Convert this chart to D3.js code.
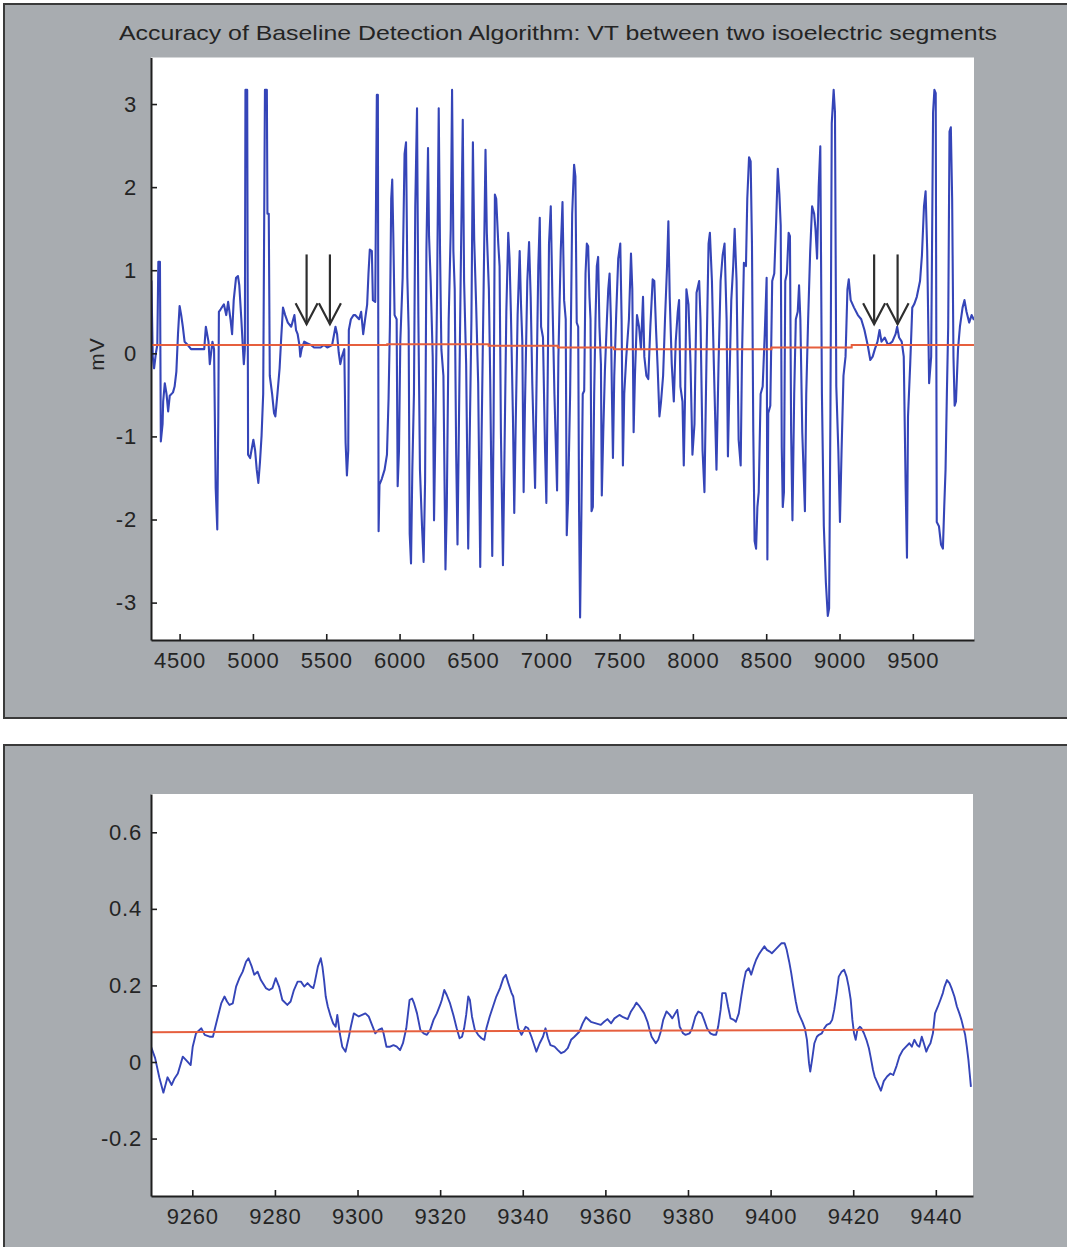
<!DOCTYPE html>
<html>
<head>
<meta charset="utf-8">
<script src="https://cdn.jsdelivr.net/npm/d3@7"></script>
<style>
  body { margin: 0; background: #fff; }
  svg { display: block; font-family: "Liberation Sans", Arial, sans-serif; }
  .axis text { font-size: 22px; fill: #242424; letter-spacing: 0.8px; }
  .axis path { stroke: #1f1f1f; stroke-width: 2; }
  .axis line { stroke: #1f1f1f; stroke-width: 1.6; }
</style>
</head>
<body>
<div class="chart"></div>
<script>
const title = "Accuracy of Baseline Detection Algorithm: VT between two isoelectric segments"

// top panel: whole strip
const topTicksX = [4500, 5000, 5500, 6000, 6500, 7000, 7500, 8000, 8500, 9000, 9500]
const topTicksY = [-3, -2, -1, 0, 1, 2, 3]
const topSignal = [
  [4305,0.62],[4308,0.87],[4312,0.45],[4317,-0.04],[4326,-0.18],[4339,0.01],[4348,0.10],[4355,1.10],[4366,1.10],[4372,-1.06],
  [4384,-0.85],[4388,-0.58],[4399,-0.36],[4411,-0.49],[4422,-0.70],[4433,-0.51],[4455,-0.47],[4466,-0.40],[4478,-0.22],[4489,0.23],
  [4500,0.57],[4511,0.46],[4522,0.32],[4534,0.14],[4556,0.10],[4578,0.05],[4612,0.05],[4668,0.05],[4679,0.32],[4697,0.14],
  [4706,-0.13],[4724,0.14],[4735,0.05],[4746,-1.62],[4757,-2.12],[4764,-0.76],[4768,0.50],[4780,0.53],[4802,0.59],[4818,0.46],
  [4831,0.62],[4847,0.41],[4858,0.23],[4869,0.64],[4885,0.91],[4898,0.93],[4907,0.82],[4921,0.41],[4932,0.05],[4938,-0.13],
  [4945,0.05],[4949,3.17],[4961,3.17],[4967,-1.22],[4981,-1.26],[5003,-1.04],[5015,-1.17],[5026,-1.40],[5037,-1.56],[5048,-1.31],
  [5059,-0.99],[5070,-0.49],[5082,3.17],[5095,3.17],[5099,1.68],[5108,1.68],[5115,-0.27],[5131,-0.49],[5144,-0.72],[5153,-0.76],
  [5167,-0.49],[5182,-0.18],[5193,0.19],[5205,0.55],[5220,0.46],[5238,0.37],[5261,0.32],[5283,0.46],[5294,0.28],[5305,0.23],
  [5317,0.10],[5323,-0.04],[5332,0.05],[5350,0.14],[5372,0.12],[5395,0.10],[5417,0.07],[5462,0.07],[5484,0.10],[5507,0.07],
  [5540,0.10],[5563,0.32],[5574,0.23],[5585,0.01],[5596,-0.13],[5607,-0.04],[5623,0.05],[5632,-1.08],[5641,-1.47],[5650,-1.17],
  [5654,0.28],[5668,0.41],[5686,0.46],
  [5697,0.46],[5724,0.41],[5738,0.50],[5752,0.23],[5765,0.41],[5779,0.59],[5788,0.96],[5797,1.25],[5811,1.23],[5818,0.64],
  [5834,0.62],[5841,2.22],[5845,3.11],[5852,3.11],[5857,-2.14],[5863,-1.58],[5879,-1.51],[5898,-1.40],[5914,-1.22],[5925,-0.54],
  [5934,0.32],[5943,1.86],[5950,2.09],[5957,1.45],[5966,0.46],[5980,0.41],[5987,-1.60],[5996,-1.17],[6005,0.14],[6021,0.91],
  [6034,2.40],[6044,2.54],[6053,0.91],[6062,0.28],[6069,-2.17],[6078,-2.53],[6087,-1.40],[6098,-0.49],[6107,1.77],[6119,2.95],
  [6128,0.46],[6139,-1.40],[6153,-2.08],[6164,-2.51],[6174,-1.53],[6183,1.23],[6194,2.47],[6201,1.41],[6212,0.87],[6226,-0.04],
  [6235,-2.01],[6244,-0.95],[6256,0.77],[6267,2.95],[6276,1.23],[6285,0.05],[6299,-0.27],[6313,-2.60],[6322,-1.85],[6335,0.41],
  [6349,1.50],[6358,3.17],[6367,1.23],[6376,0.77],[6386,-1.22],[6395,-2.30],[6404,-0.95],[6417,0.96],[6431,2.81],[6440,0.87],
  [6454,-0.13],[6468,-2.35],[6477,-1.17],[6490,0.41],[6500,2.54],[6509,1.36],[6522,0.59],[6536,-0.36],[6550,-2.57],[6559,-1.04],
  [6573,0.77],[6586,2.45],[6595,1.45],[6609,0.77],[6618,-0.31],[6632,-2.44],[6641,-0.85],[6650,1.91],[6659,1.86],[6673,1.32],
  [6682,1.05],[6691,-0.95],[6705,-2.55],[6714,-1.40],[6728,0.50],[6741,1.45],[6750,1.14],[6759,0.50],[6773,-0.76],[6782,-1.92],
  [6791,-0.95],[6805,0.46],[6819,1.23],[6828,0.59],[6837,0.14],[6846,-1.67],[6855,-0.63],[6871,0.87],[6883,1.34],[6894,0.68],
  [6905,-0.36],[6924,-1.62],[6933,-0.49],[6946,1.05],[6956,1.63],[6965,0.32],[6978,0.19],[6992,-1.17],[7001,-1.80],[7010,-0.31],
  [7019,1.32],[7031,1.77],[7042,0.68],[7056,-0.49],[7074,-1.65],[7083,-0.04],[7099,1.23],[7111,1.82],[7122,0.64],[7133,0.41],
  [7140,-2.19],[7149,-1.76],[7163,-0.49],[7177,1.68],[7190,2.27],[7199,2.13],[7208,0.37],[7218,0.32],[7224,-1.90],[7231,-3.18],
  [7240,-1.92],[7249,-0.49],[7259,-0.45],[7268,0.96],[7277,1.32],[7286,1.29],[7295,0.68],[7302,0.41],[7309,-1.90],[7318,-1.85],
  [7327,-0.49],[7336,0.41],[7345,1.05],[7354,1.16],[7363,0.32],[7373,-0.13],[7379,-1.71],[7389,-0.95],[7400,-0.22],[7414,0.41],
  [7423,0.77],[7432,0.96],[7441,0.41],[7448,-0.49],[7455,-1.26],[7464,-0.27],[7477,0.46],[7491,1.14],[7505,1.32],[7514,0.41],
  [7523,-1.35],[7532,-0.49],[7546,-0.04],[7564,0.41],[7578,1.20],[7587,0.77],[7596,-0.95],[7605,-0.27],[7619,0.46],[7633,0.32],
  [7646,0.05],[7660,0.68],[7669,-0.04],[7683,-0.27],[7696,-0.31],[7710,0.32],[7726,0.89],[7737,0.87],[7749,0.28],[7760,-0.18],
  [7772,-0.76],[7783,-0.58],[7797,-0.27],[7810,0.41],[7824,1.05],[7833,1.59],[7842,0.68],[7856,-0.13],[7870,-0.58],[7883,0.14],
  [7897,0.50],[7906,0.64],[7915,-0.40],[7929,-0.58],[7938,-1.35],[7947,-0.49],[7956,0.77],[7970,0.59],[7984,-0.13],[7997,-1.22],
  [8011,-0.85],[8025,0.73],[8043,0.87],[8052,0.41],[8066,-1.17],[8079,-1.67],[8093,-0.04],[8107,1.32],[8116,1.45],[8130,0.87],
  [8143,-0.13],[8161,-1.40],[8175,-0.13],[8189,0.87],[8203,1.18],[8216,1.32],[8230,0.41],[8239,-1.24],[8250,-0.31],[8262,0.64],
  [8275,1.05],[8285,1.50],[8298,0.87],[8312,-1.04],[8326,-1.35],[8335,-0.04],[8348,1.09],[8362,1.05],[8371,1.86],[8383,2.36],
  [8394,2.31],[8403,1.32],[8412,-0.95],[8421,-2.26],[8431,-2.35],[8440,-1.85],[8449,-1.67],[8462,-0.49],[8476,-0.40],[8490,0.23],
  [8503,0.91],
  [8508,-2.48],[8514,-0.72],[8528,-0.63],[8541,0.87],[8555,0.96],[8568,1.59],[8579,2.22],[8590,1.91],[8599,1.54],[8606,-1.13],
  [8613,-1.85],[8621,-1.67],[8630,0.87],[8641,0.96],[8653,1.45],[8662,1.41],[8670,-0.95],[8679,-2.01],[8691,-0.49],[8702,0.41],
  [8715,0.50],[8724,0.82],[8733,0.41],[8746,-0.95],[8764,-1.90],[8773,-0.49],[8786,0.41],[8800,1.23],[8813,1.77],[8827,1.68],
  [8836,1.50],[8847,1.14],[8858,2.00],[8869,2.49],[8880,-0.49],[8893,-2.08],[8907,-2.76],[8920,-3.16],[8929,-3.07],[8938,-0.72],
  [8947,2.77],[8960,3.17],[8969,2.90],[8978,-0.40],[8992,-1.17],[9003,-2.03],[9014,-1.17],[9027,-0.27],[9041,-0.04],[9054,0.77],
  [9063,0.89],[9076,0.64],[9099,0.55],[9125,0.46],[9148,0.41],[9170,0.28],[9192,0.10],[9210,-0.08],[9226,-0.04],[9241,0.05],
  [9259,0.14],[9273,0.28],[9286,0.14],[9308,0.19],[9331,0.10],[9360,0.14],[9382,0.23],[9393,0.32],[9406,0.19],[9424,0.14],
  [9438,-0.04],[9451,-1.62],[9460,-2.46],[9467,-0.76],[9482,-0.13],[9496,0.55],[9509,0.59],[9527,0.68],[9549,0.87],[9562,1.18],
  [9576,1.77],[9587,1.95],[9598,1.23],[9611,-0.36],[9625,-0.04],[9638,2.90],[9647,3.17],[9656,3.13],[9663,-2.03],[9678,-2.08],
  [9692,-2.30],[9705,-2.35],[9714,-1.85],[9723,-1.40],[9732,-0.49],[9741,0.32],[9750,2.67],[9759,2.72],[9768,1.86],[9777,-0.04],
  [9785,-0.63],[9794,-0.58],[9808,0.05],[9821,0.32],[9839,0.55],[9852,0.64],[9866,0.50],[9884,0.37],[9901,0.46],[9917,0.40]
]
const topBaseline = [
  [4305,0.10],[5916,0.10],[5916,0.11],[6607,0.11],[6607,0.09],[7079,0.09],[7079,0.07],[7462,0.07],
  [7462,0.05],[8536,0.05],[8536,0.07],[9083,0.07],[9083,0.10],[9917,0.10]
]
// arrows marking the two isoelectric segments
const arrowX = [5366, 5525, 9236, 9396]
const arrowTop = 1.19
const arrowTip = 0.35

// bottom panel: close-up of the second segment
const zoomTicksX = [9260, 9280, 9300, 9320, 9340, 9360, 9380, 9400, 9420, 9440]
const zoomTicksY = [-0.2, 0, 0.2, 0.4, 0.6]
const zoomSignal = [
  [9250,0.04],[9251,0.01],[9252,-0.04],[9253,-0.08],[9254,-0.04],[9255,-0.06],[9255.7,-0.043],[9256.5,-0.03],[9257.7,0.014],[9258.5,0.005],
  [9259.6,-0.008],[9260.1,0.04],[9260.9,0.075],[9262.2,0.088],[9263,0.071],[9264.2,0.066],[9265,0.066],[9265.4,0.084],[9266.2,0.119],[9267,0.153],
  [9267.8,0.171],[9268.4,0.158],[9269,0.149],[9269.8,0.153],[9270.6,0.197],[9271.4,0.219],[9272.2,0.236],[9273,0.262],[9273.6,0.271],[9274.4,0.249],
  [9275,0.228],[9275.8,0.236],[9276.6,0.214],[9277.8,0.193],[9278.6,0.188],[9279.4,0.193],[9280.2,0.219],[9281,0.197],[9281.8,0.162],[9283,0.149],
  [9283.8,0.158],[9284.6,0.188],[9285.5,0.21],[9286.3,0.21],[9287.1,0.197],[9287.9,0.206],[9288.7,0.197],[9289.3,0.193],[9289.6,0.206],[9290.4,0.249],
  [9291.1,0.271],[9291.5,0.249],[9291.9,0.214],[9292.3,0.171],[9292.8,0.145],[9293.5,0.119],[9294.1,0.101],[9294.7,0.092],[9295.1,0.123],[9295.7,0.075],
  [9296.3,0.04],[9297.1,0.027],[9297.9,0.066],[9298.3,0.088],[9299.1,0.127],[9300.3,0.119],[9301.1,0.123],[9301.9,0.127],[9302.7,0.119],[9303.5,0.097],
  [9304.3,0.075],[9305.1,0.084],[9305.9,0.088],[9306.3,0.075],[9307,0.04],[9307.9,0.04],[9308.7,0.044],[9309.5,0.04],[9310.3,0.031],[9311,0.049],
  [9311.8,0.088],[9312.6,0.162],[9313.2,0.166],[9313.7,0.153],[9314.4,0.127],[9315.2,0.084],[9316,0.075],[9316.8,0.071],[9317.6,0.084],[9318.4,0.11],
  [9319.2,0.127],[9320,0.149],[9320.4,0.162],[9321,0.188],[9321.6,0.175],[9322.4,0.153],[9323.2,0.123],[9324,0.088],[9324.7,0.062],[9325.3,0.066],
  [9325.8,0.088],[9326.3,0.123],[9326.8,0.171],[9327.2,0.162],[9327.7,0.119],[9328.4,0.084],[9329.2,0.071],[9330,0.062],[9330.7,0.058],[9331.2,0.088],
  [9332,0.119],[9332.8,0.145],[9333.6,0.171],[9334.5,0.193],[9335.3,0.219],[9335.9,0.228],[9336.5,0.206],[9337.3,0.18],[9337.7,0.171],[9338.3,0.127],
  [9338.9,0.088],[9339.7,0.071],[9340.7,0.092],[9341.3,0.088],[9342.1,0.066],[9342.9,0.04],[9343.3,0.027],[9344.1,0.049],[9344.9,0.066],[9345.5,0.088],
  [9346.1,0.062],[9346.7,0.044],[9347.7,0.04],[9348.5,0.031],[9349.3,0.023],[9350.1,0.027],[9350.9,0.036],[9351.7,0.058],[9352.5,0.066],[9353.7,0.079],
  [9354.5,0.101],[9355.3,0.117],[9356.5,0.105],[9357.7,0.101],[9358.9,0.097],[9359.7,0.105],[9360.5,0.112],[9361.4,0.101],[9362.2,0.114],[9363.4,0.123],
  [9364.3,0.117],[9365.4,0.112],[9366.2,0.132],[9367,0.145],[9367.5,0.155],[9368.3,0.145],[9369.4,0.127],[9370.2,0.105],[9370.7,0.084],[9371.2,0.066],
  [9372.2,0.049],[9372.8,0.058],[9373.4,0.079],[9374,0.11],[9374.8,0.132],[9375.6,0.123],[9376.2,0.114],[9376.9,0.127],[9377.4,0.136],[9378,0.092],
  [9378.8,0.075],[9379.4,0.071],[9380.4,0.075],[9381,0.088],[9381.8,0.119],[9382.5,0.132],[9383.3,0.127],[9383.9,0.11],[9384.6,0.088],[9385.4,0.075],
  [9386.2,0.071],[9386.8,0.071],[9387.3,0.092],[9387.9,0.136],[9388.3,0.18],[9389.1,0.18],[9389.7,0.145],[9390.3,0.114],[9391.1,0.11],[9391.6,0.105],
  [9392.3,0.127],[9392.9,0.171],[9393.5,0.21],[9394,0.236],[9394.7,0.245],[9395.3,0.228],[9395.9,0.249],[9396.5,0.267],[9397.1,0.28],[9397.9,0.293],
  [9398.5,0.302],[9399.1,0.293],[9399.7,0.289],[9400.3,0.284],[9401.1,0.293],[9401.9,0.302],[9402.6,0.31],[9403.4,0.31],[9403.9,0.293],[9404.5,0.262],
  [9405,0.232],[9405.5,0.197],[9406.1,0.158],[9406.6,0.132],[9407.1,0.119],[9407.7,0.105],[9408.3,0.088],[9408.8,0.058],[9409.3,-0.003],[9409.6,-0.025],
  [9410.1,0.01],[9410.6,0.049],[9411.2,0.066],[9411.7,0.071],[9412.4,0.075],[9413,0.088],[9413.6,0.097],[9414.4,0.101],[9414.9,0.11],[9415.4,0.136],
  [9416,0.18],[9416.5,0.223],[9417.2,0.236],[9417.8,0.241],[9418.4,0.223],[9418.9,0.197],[9419.4,0.162],[9419.8,0.11],[9420.2,0.075],[9420.6,0.058],
  [9421,0.084],[9421.6,0.092],[9422,0.088],[9422.6,0.075],[9423.2,0.058],[9423.8,0.036],[9424.2,0.014],[9424.8,-0.021],[9425.2,-0.038],[9426.7,-0.075],
  [9427.4,-0.05],[9428.2,-0.038],[9429,-0.03],[9429.7,-0.034],[9430.5,-0.01],[9431.2,0.015],[9432,0.031],[9432.8,0.04],[9433.6,0.049],[9434.2,0.04],
  [9434.8,0.058],[9435.5,0.044],[9436,0.04],[9436.6,0.066],[9437.1,0.049],[9437.7,0.027],[9438.2,0.04],[9438.7,0.049],[9439.3,0.075],[9439.8,0.127],
  [9440.5,0.145],[9441.1,0.162],[9441.7,0.18],[9442.1,0.197],[9442.7,0.214],[9443.3,0.206],[9443.8,0.193],[9444.5,0.171],[9445.1,0.145],[9445.7,0.127],
  [9446.2,0.11],[9446.7,0.088],[9447.1,0.071],[9447.5,0.04],[9447.9,0.005],[9448.2,-0.03],[9448.5,-0.065]
]
const zoomBaseline = [[9250,0.078],[9449,0.085]]

const W = 1067
const H = 1247
const panelFill = "#a8acb0"
const blue = "#3545b8"
const red = "#e65f3e"

const $svg = d3.select(".chart").append("svg").attr("width", W).attr("height", H)

// grey figure panels
$svg.append("rect").attr("x", 4).attr("y", 4).attr("width", 1080).attr("height", 714)
  .attr("fill", panelFill).attr("stroke", "#3a3a3a").attr("stroke-width", 2)
$svg.append("rect").attr("x", 4).attr("y", 745).attr("width", 1080).attr("height", 520)
  .attr("fill", panelFill).attr("stroke", "#3a3a3a").attr("stroke-width", 2)

$svg.append("text")
  .attr("x", 558).attr("y", 40)
  .attr("text-anchor", "middle")
  .attr("textLength", 878).attr("lengthAdjust", "spacingAndGlyphs")
  .style("font-size", "21px").style("fill", "#242424")
  .text(title)

function drawAxes(cfg) {
  const { id, xDomain, yDomain, box, ticksX, ticksY, padY } = cfg
  const x = d3.scaleLinear().domain(xDomain).range([box.left, box.right])
  const y = d3.scaleLinear().domain(yDomain).range([box.bottom, box.top])

  $svg.append("rect")
    .attr("x", box.left).attr("y", box.top)
    .attr("width", box.right - box.left).attr("height", box.bottom - box.top)
    .attr("fill", "#fff")

  $svg.append("clipPath").attr("id", id)
    .append("rect")
    .attr("x", box.left).attr("y", box.top)
    .attr("width", box.right - box.left).attr("height", box.bottom - box.top)

  $svg.append("g")
    .attr("class", "axis x-axis")
    .attr("transform", `translate(0, ${box.bottom})`)
    .call(d3.axisBottom(x).tickValues(ticksX).tickSize(-6).tickSizeOuter(0).tickPadding(12).tickFormat(d => String(d)))

  $svg.append("g")
    .attr("class", "axis y-axis")
    .attr("transform", `translate(${box.left}, 0)`)
    .call(d3.axisLeft(y).tickValues(ticksY).tickSize(-6).tickSizeOuter(0).tickPadding(padY).tickFormat(d => String(d)))

  return { x, y }
}

function drawLines(s, clipId, signal, baseline, width) {
  const line = d3.line().x(d => s.x(d[0])).y(d => s.y(d[1]))
  const $g = $svg.append("g").attr("clip-path", `url(#${clipId})`)
  $g.append("path").attr("d", line(signal))
    .attr("fill", "none").attr("stroke", blue).attr("stroke-width", width).attr("stroke-linejoin", "round")
  $g.append("path").attr("d", line(baseline))
    .attr("fill", "none").attr("stroke", red).attr("stroke-width", 2)
}

const topScales = drawAxes({
  id: "clip-top",
  xDomain: [4305, 9917],
  yDomain: [-3.45, 3.56],
  box: { left: 151, right: 974, top: 57.5, bottom: 640 },
  ticksX: topTicksX,
  ticksY: topTicksY,
  padY: 14
})
drawLines(topScales, "clip-top", topSignal, topBaseline, 2.1)

$svg.append("text")
  .attr("transform", `translate(104, 354) rotate(-90)`)
  .attr("text-anchor", "middle")
  .style("font-size", "21px").style("fill", "#242424").style("letter-spacing", "1px")
  .text("mV")

const $arrows = $svg.append("g").attr("stroke", "#2e2e2e").attr("stroke-width", 2.2).attr("fill", "none")
arrowX.forEach(a => {
  const ax = topScales.x(a)
  const y0 = topScales.y(arrowTop)
  const y1 = topScales.y(arrowTip)
  $arrows.append("line").attr("x1", ax).attr("x2", ax).attr("y1", y0).attr("y2", y1)
  $arrows.append("polyline").attr("points", `${ax - 11},${y1 - 21} ${ax},${y1} ${ax + 11},${y1 - 21}`)
})

const bottomScales = drawAxes({
  id: "clip-bottom",
  xDomain: [9250, 9449],
  yDomain: [-0.35, 0.7],
  box: { left: 151, right: 973, top: 794, bottom: 1196 },
  ticksX: zoomTicksX,
  ticksY: zoomTicksY,
  padY: 9
})
drawLines(bottomScales, "clip-bottom", zoomSignal, zoomBaseline, 1.9)

// axes on top of the traces
$svg.selectAll(".axis").raise()
</script>
</body>
</html>
